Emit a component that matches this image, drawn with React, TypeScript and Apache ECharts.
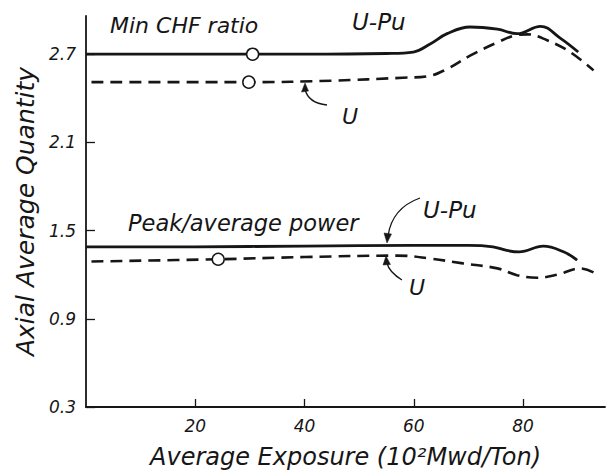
import React, { useEffect, useRef } from "react";
import * as echarts from "echarts";

// Min CHF ratio, U-Pu (solid)
const chfUPuX = [0, 20, 40, 55, 59.9, 63, 66.1, 70.3, 75.3, 78.9, 83.2, 86.8, 90.1];
const chfUPuY = [2.7, 2.7, 2.7, 2.705, 2.715, 2.77, 2.84, 2.885, 2.87, 2.84, 2.89, 2.81, 2.715];
// Min CHF ratio, U (dashed)
const chfUX = [1, 20, 30, 45, 58, 62.5, 66.1, 70.3, 75.3, 78.9, 80.8, 84.4, 88.6, 92.9];
const chfUY = [2.51, 2.51, 2.51, 2.52, 2.54, 2.55, 2.6, 2.69, 2.78, 2.83, 2.835, 2.795, 2.715, 2.59];
// Peak/average power, U-Pu (solid)
const pkUPuX = [0, 20, 40, 60, 70, 74.5, 77, 79.3, 83.7, 87.4, 89.9];
const pkUPuY = [1.39, 1.39, 1.395, 1.4, 1.4, 1.39, 1.365, 1.355, 1.394, 1.356, 1.3];
// Peak/average power, U (dashed)
const pkUX = [1, 24, 40, 57, 63, 69, 75.3, 78.9, 82.6, 86.3, 90.5, 92.9];
const pkUY = [1.29, 1.305, 1.32, 1.33, 1.31, 1.277, 1.243, 1.197, 1.179, 1.2, 1.243, 1.216];
// open circle markers
const markerX = [30.5, 29.8, 24.2];
const markerY = [2.7, 2.51, 1.305];

const xTicks = [20, 40, 60, 80];
const yTicks = [0.3, 0.9, 1.5, 2.1, 2.7];

const FONT = "DejaVu Sans";
const INK = "#161616";

const pairs = (xs: number[], ys: number[]) => xs.map((x, i) => [x, ys[i]]);

export default function App() {
  const ref = useRef<HTMLDivElement>(null);
  useEffect(() => {
    if (!ref.current) return;
    const chart = echarts.init(ref.current, undefined, { renderer: "svg" });
    const txt = (text: string, x: number, y: number, size: number) => ({
      type: "text",
      x,
      y,
      style: {
        text,
        fill: INK,
        font: `italic ${size}px "${FONT}"`,
        textVerticalAlign: "middle",
        verticalAlign: "middle",
      },
    });
    const curve = (x1: number, y1: number, cx: number, cy: number, x2: number, y2: number) => ({
      type: "bezierCurve",
      shape: { x1, y1, cpx1: cx, cpy1: cy, x2, y2 },
      style: { stroke: INK, lineWidth: 1.3, fill: "none" },
    });
    const head = (pts: number[][]) => ({
      type: "polygon",
      shape: { points: pts },
      style: { fill: INK, stroke: INK, lineWidth: 0.5 },
    });
    const lineStyleSolid = { color: INK, width: 2.8 };
    const lineStyleDash = { color: INK, width: 2.6, type: [12, 7] as any };
    chart.setOption({
      animation: false,
      backgroundColor: "#ffffff",
      grid: { left: 86, right: 4, top: 16, bottom: 69 },
      xAxis: {
        type: "value",
        min: 0,
        max: 95,
        interval: 20,
        name: "Average Exposure (10²Mwd/Ton)",
        nameLocation: "middle",
        nameGap: 38,
        nameTextStyle: { fontFamily: FONT, fontStyle: "italic", fontSize: 24, color: INK },
        axisLine: { show: true, lineStyle: { color: INK, width: 1.8 } },
        axisTick: { show: true, inside: true, length: 8, customValues: xTicks, lineStyle: { color: INK, width: 1.3 } },
        axisLabel: { customValues: xTicks, fontFamily: FONT, fontStyle: "italic", fontSize: 17, color: INK, margin: 10 },
        splitLine: { show: false },
      },
      yAxis: {
        type: "value",
        min: 0.3,
        max: 2.96,
        name: "Axial Average Quantity",
        nameLocation: "middle",
        nameGap: 46,
        nameTextStyle: { fontFamily: FONT, fontStyle: "italic", fontSize: 25, color: INK },
        axisLine: { show: true, lineStyle: { color: INK, width: 1.8 } },
        axisTick: { show: true, inside: true, length: 9, customValues: yTicks, lineStyle: { color: INK, width: 1.3 } },
        axisLabel: {
          customValues: yTicks,
          fontFamily: FONT,
          fontStyle: "italic",
          fontSize: 17,
          color: INK,
          margin: 10,
          formatter: (v: number) => v.toFixed(1),
        },
        splitLine: { show: false },
      },
      series: [
        { type: "line", data: pairs(chfUPuX, chfUPuY), smooth: 0.4, symbol: "none", lineStyle: lineStyleSolid, z: 3 },
        { type: "line", data: pairs(chfUX, chfUY), smooth: 0.4, symbol: "none", lineStyle: lineStyleDash, z: 3 },
        { type: "line", data: pairs(pkUPuX, pkUPuY), smooth: 0.4, symbol: "none", lineStyle: lineStyleSolid, z: 3 },
        { type: "line", data: pairs(pkUX, pkUY), smooth: 0.4, symbol: "none", lineStyle: lineStyleDash, z: 3 },
        {
          type: "scatter",
          data: pairs(markerX, markerY),
          symbol: "circle",
          symbolSize: 12,
          itemStyle: { color: "#ffffff", borderColor: INK, borderWidth: 1.5, opacity: 1 },
          z: 5,
        },
      ],
      graphic: [
        txt("Min CHF ratio", 110, 25, 22),
        txt("U-Pu", 352, 22, 23),
        txt("U", 342, 116, 22),
        txt("Peak/average power", 128, 223, 22.5),
        txt("U-Pu", 423, 210, 23),
        txt("U", 409, 287, 22),
        curve(327, 105, 308, 103, 305, 89),
        head([[305, 83], [301.5, 92], [308.5, 91]]),
        curve(420, 198, 392, 208, 388, 236),
        head([[387, 243], [384, 233], [391.5, 234]]),
        curve(402, 280, 389, 272, 387, 263),
        head([[386, 256], [383, 265], [390.5, 264.5]]),
      ],
    });
    return () => chart.dispose();
  }, []);
  return <div ref={ref} style={{ position: "fixed", left: 0, top: 0, width: 609, height: 476 }} />;
}
